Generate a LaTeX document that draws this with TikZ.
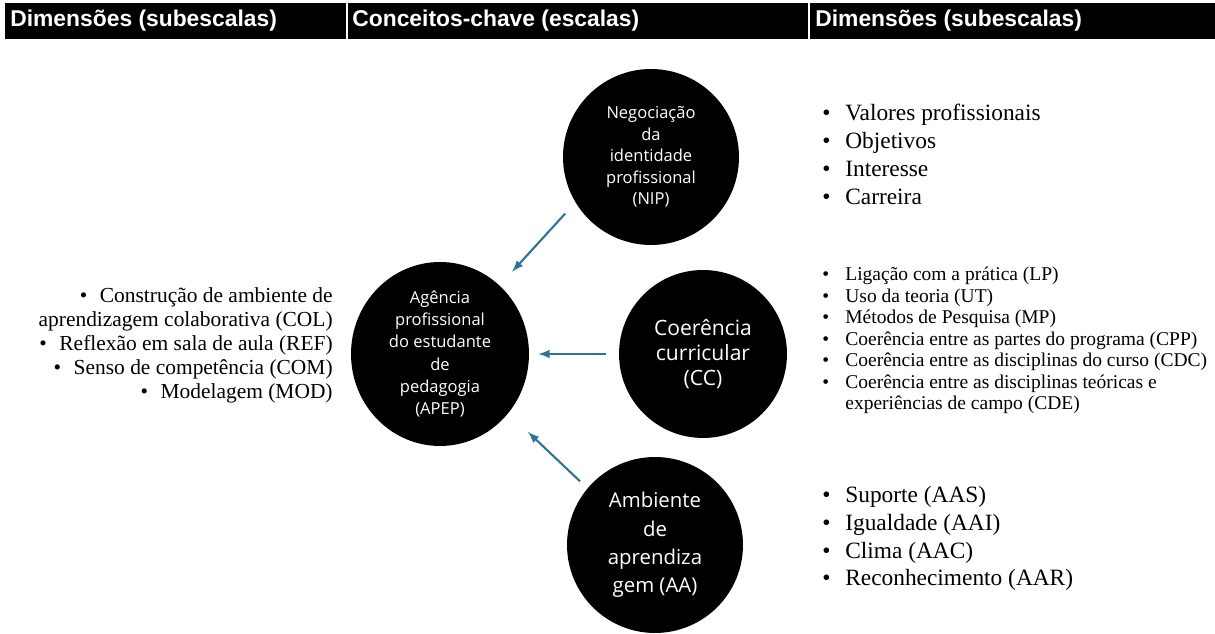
\documentclass[tikz,border=0pt]{standalone}
\usepackage{fontspec}
\setmainfont{Liberation Serif}
\newfontfamily\circfont{Open Sans}
\newfontfamily\headfont{Liberation Sans}
\usetikzlibrary{arrows,shapes.geometric}
\definecolor{azul}{RGB}{46,116,148}
\newcommand{\pto}{\makebox[0.5cm][l]{\hspace{0.04cm}•}}
\newcommand{\ptoesq}{\makebox[0.4cm][l]{•}}

\begin{document}
\begin{tikzpicture}[x=0.02cm,y=-0.02cm,>=latex,
  circulo/.style={circle,fill=black,text=white,align=center,inner sep=0pt,minimum size=3.52cm},
  cabecalho/.style={anchor=west,text=white,inner sep=0pt,font=\headfont\bfseries\fontsize{13}{15}\selectfont},
  lista/.style={align=left,anchor=north west,inner sep=0pt},
  ligacao/.style={->,color=azul,line width=1.2pt}]
\useasboundingbox (0,0) rectangle (1215,634);

% cabecalho
\fill (5,3) rectangle (1215,39);
\draw[white,line width=0.6pt] (347,3)--(347,39);
\draw[white,line width=0.6pt] (809,3)--(809,39);
\node[cabecalho] (cab1) at (10,21) {Dimensões (subescalas)};
\node[cabecalho] (cab2) at (352,21) {Conceitos-chave (escalas)};
\node[cabecalho] (cab3) at (815,21) {Dimensões (subescalas)};

% conceitos
\node[circulo,font=\circfont\fontsize{9.4}{12.3}\selectfont] (nip) at (651,157)
  {Negociação\\da\\identidade\\profissional\\(NIP)};
\node[circulo,ellipse,minimum width=3.56cm,minimum height=3.68cm,font=\circfont\fontsize{9.4}{12.7}\selectfont] (apep) at (440,354)
  {Agência\\profissional\\do estudante\\de\\pedagogia\\(APEP)};
\node[circulo,minimum size=3.36cm,font=\circfont\fontsize{12}{14.4}\selectfont] (cc) at (703,354)
  {Coerência\\curricular\\(CC)};
\node[circulo,font=\circfont\fontsize{11.6}{16.1}\selectfont] (aa) at (655,545)
  {Ambiente\\de\\aprendiza\\gem (AA)};

\draw[ligacao,shorten <=0.3cm,shorten >=0.37cm] (nip.211) -- (apep.49);
\draw[ligacao,shorten <=0.26cm,shorten >=0.18cm] (cc.west) -- (apep.east);
\draw[ligacao,shorten <=0.2cm,shorten >=0.54cm] (aa.140) -- (apep.-41);

% dimensoes
\node[align=right,anchor=north east,inner sep=0pt,font=\fontsize{12.2}{13.7}\selectfont] (apepdim) at (333,287)
  {\ptoesq Construção de ambiente de\\aprendizagem colaborativa (COL)\\
   \ptoesq Reflexão em sala de aula (REF)\\\ptoesq Senso de competência (COM)\\
   \ptoesq Modelagem (MOD)};
\node[lista,font=\fontsize{13.3}{15.8}\selectfont] (nipdim) at (820,104)
  {\pto Valores profissionais\\\pto Objetivos\\\pto Interesse\\\pto Carreira};
\node[lista,font=\fontsize{11.1}{12.2}\selectfont] (ccdim) at (820,267)
  {\pto Ligação com a prática (LP)\\\pto Uso da teoria (UT)\\
   \pto Métodos de Pesquisa (MP)\\\pto Coerência entre as partes do programa (CPP)\\
   \pto Coerência entre as disciplinas do curso (CDC)\\
   \pto Coerência entre as disciplinas teóricas e\\
   \hspace*{0.5cm}experiências de campo (CDE)};
\node[lista,font=\fontsize{13.3}{15.8}\selectfont] (aadim) at (820,486)
  {\pto Suporte (AAS)\\\pto Igualdade (AAI)\\\pto Clima (AAC)\\\pto Reconhecimento (AAR)};

\end{tikzpicture}
\end{document}
